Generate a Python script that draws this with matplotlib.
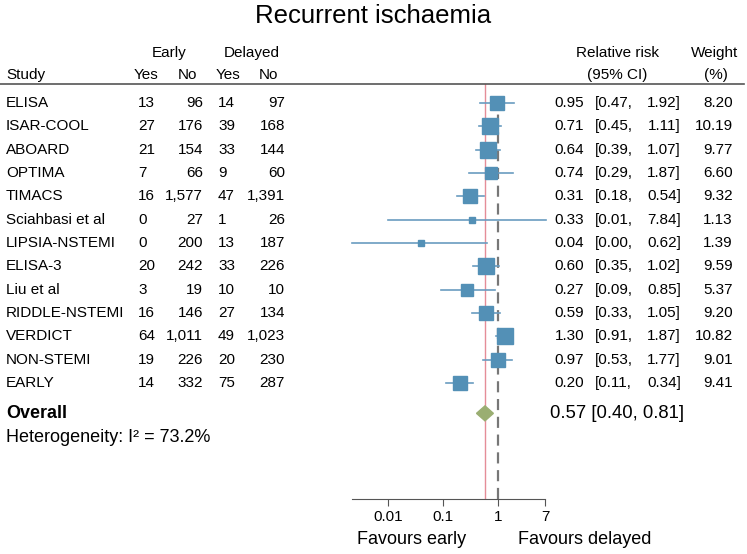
import numpy as np
import matplotlib.pyplot as plt
from matplotlib.transforms import blended_transform_factory

plt.rcParams['font.family'] = ['Liberation Sans', 'DejaVu Sans']

studies = ['ELISA', 'ISAR-COOL', 'ABOARD', 'OPTIMA', 'TIMACS', 'Sciahbasi et al',
           'LIPSIA-NSTEMI', 'ELISA-3', 'Liu et al', 'RIDDLE-NSTEMI', 'VERDICT',
           'NON-STEMI', 'EARLY']
early_yes = [13, 27, 21, 7, 16, 0, 0, 20, 3, 16, 64, 19, 14]
early_no = [96, 176, 154, 66, 1577, 27, 200, 242, 19, 146, 1011, 226, 332]
delayed_yes = [14, 39, 33, 9, 47, 1, 13, 33, 10, 27, 49, 20, 75]
delayed_no = [97, 168, 144, 60, 1391, 26, 187, 226, 10, 134, 1023, 230, 287]
rr = [0.95, 0.71, 0.64, 0.74, 0.31, 0.33, 0.04, 0.60, 0.27, 0.59, 1.30, 0.97, 0.20]
ci_lo = [0.47, 0.45, 0.39, 0.29, 0.18, 0.01, 0.00, 0.35, 0.09, 0.33, 0.91, 0.53, 0.11]
ci_hi = [1.92, 1.11, 1.07, 1.87, 0.54, 7.84, 0.62, 1.02, 0.85, 1.05, 1.87, 1.77, 0.34]
weight = [8.20, 10.19, 9.77, 6.60, 9.32, 1.13, 1.39, 9.59, 5.37, 9.20, 10.82, 9.01, 9.41]
overall = (0.57, 0.40, 0.81)
i2 = 73.2
ticks = [0.01, 0.1, 1, 7]

W, H = 747, 554
fig = plt.figure(figsize=(W / 100, H / 100), dpi=100)

def fx(px):
    return px / W

# forest axes
ax = fig.add_axes([fx(352), (H - 499) / H, fx(545 - 352), (499 - 84) / H])
xmin, xmax = 0.0022, 7.0
ax.set_xscale('log')
ax.set_xlim(xmin, xmax)
n = len(studies)
ax.set_ylim(16.97, -0.814)

box = '#5390b6'
for i in range(n):
    lo = max(ci_lo[i], xmin)
    hi = min(ci_hi[i], xmax * 1.05)
    ax.plot([lo, hi], [i, i], color='#6a9cc0', lw=1.2, clip_on=False, zorder=3)
    ax.plot(rr[i], i, marker='s', ms=3.5 * np.sqrt(weight[i]), color=box,
            mec=box, zorder=4, clip_on=False)

# overall diamond
oy = n + 0.3
ax.fill([overall[1], overall[0], overall[2], overall[0]],
        [oy, oy - 0.32, oy, oy + 0.32], color='#9aae72', zorder=4)

ax.axvline(overall[0], color='#e58d98', lw=1, zorder=2)
ax.axvline(1, ymin=0, ymax=0.98, color='#777777', lw=1.6, ls=(0, (5, 3)), zorder=2)

for s in ['top', 'right', 'left']:
    ax.spines[s].set_visible(False)
ax.spines['bottom'].set_color('#555555')
ax.set_yticks([])
ax.set_xticks(ticks)
ax.set_xticklabels(['0.01', '0.1', '1', '7'])
ax.minorticks_off()
ax.tick_params(axis='x', labelsize=11, length=5, color='#555555', pad=3)

# table text
tr = blended_transform_factory(fig.transFigure, ax.transData)
fs = 11
for i in range(n):
    ax.text(fx(6), i, studies[i], transform=tr, fontsize=fs, va='center')
    ax.text(fx(138), i, f'{early_yes[i]:,}', transform=tr, fontsize=fs, va='center')
    ax.text(fx(203), i, f'{early_no[i]:,}', transform=tr, fontsize=fs, va='center', ha='right')
    ax.text(fx(218), i, f'{delayed_yes[i]:,}', transform=tr, fontsize=fs, va='center')
    ax.text(fx(285), i, f'{delayed_no[i]:,}', transform=tr, fontsize=fs, va='center', ha='right')
    ax.text(fx(584), i, f'{rr[i]:.2f}', transform=tr, fontsize=fs, va='center', ha='right')
    ax.text(fx(595), i, f'[{ci_lo[i]:.2f},', transform=tr, fontsize=fs, va='center')
    ax.text(fx(681), i, f'{ci_hi[i]:.2f}]', transform=tr, fontsize=fs, va='center', ha='right')
    ax.text(fx(733), i, f'{weight[i]:.2f}', transform=tr, fontsize=fs, va='center', ha='right')

ax.text(fx(6), oy, 'Overall', transform=tr, fontsize=13, fontweight='bold', va='center')
ax.text(fx(550), oy, f'{overall[0]:.2f} [{overall[1]:.2f}, {overall[2]:.2f}]',
        transform=tr, fontsize=13.3, va='center')
ax.text(fx(6), oy + 1.05, f'Heterogeneity: I² = {i2}%', transform=tr, fontsize=13, va='center')

# header
def ftext(px, py, s, **kw):
    fig.text(fx(px), 1 - py / H, s, va='center', **kw)

ftext(373, 16, 'Recurrent ischaemia', fontsize=18.5, ha='center')
ftext(169, 53, 'Early', fontsize=fs, ha='center')
ftext(252, 53, 'Delayed', fontsize=fs, ha='center')
ftext(6, 75, 'Study', fontsize=fs)
ftext(146, 75, 'Yes', fontsize=fs, ha='center')
ftext(187, 75, 'No', fontsize=fs, ha='center')
ftext(228, 75, 'Yes', fontsize=fs, ha='center')
ftext(268, 75, 'No', fontsize=fs, ha='center')
ftext(617, 53, 'Relative risk', fontsize=fs, ha='center')
ftext(617, 75, '(95% CI)', fontsize=fs, ha='center')
ftext(715, 53, 'Weight', fontsize=fs, ha='center')
ftext(716, 75, '(%)', fontsize=fs, ha='center')
fig.add_artist(plt.Line2D([0, fx(744)], [1 - 84 / H, 1 - 84 / H], color='#555555', lw=1.2))

ftext(412, 540, 'Favours early', fontsize=13, ha='center')
ftext(585, 540, 'Favours delayed', fontsize=13, ha='center')

fig.savefig('out.png', dpi=100)
